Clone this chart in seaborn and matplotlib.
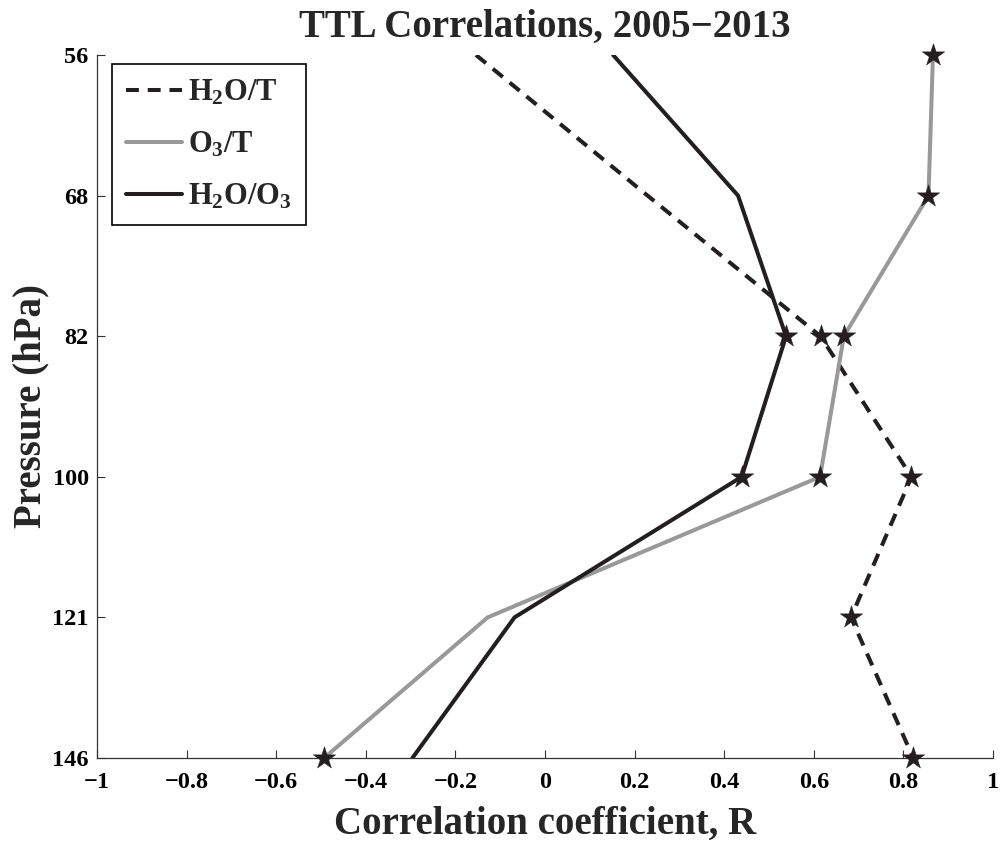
import numpy as np
import pandas as pd
import matplotlib
matplotlib.use("Agg")
import matplotlib.pyplot as plt
from matplotlib.ticker import NullLocator, FixedLocator, FixedFormatter
import seaborn as sns

# Pressure levels (hPa) and their tick labels
pressure = [56.23, 68.13, 82.54, 100.0, 121.15, 146.78]
pressure_labels = ["56", "68", "82", "100", "121", "146"]

# Correlation coefficients at each level
r_h2o_t = [-0.154, 0.229, 0.615, 0.818, 0.683, 0.822]
r_o3_t = [0.866, 0.856, 0.667, 0.614, -0.128, -0.493]
r_h2o_o3 = [0.152, 0.431, 0.538, 0.439, -0.068, -0.296]

# Which levels are marked as significant (star markers)
sig_h2o_t = [False, False, True, True, True, True]
sig_o3_t = [True, True, True, True, False, True]
sig_h2o_o3 = [False, False, True, True, False, False]

series_names = ["H$_2$O/T", "O$_3$/T", "H$_2$O/O$_3$"]
x_ticks = [-1, -0.8, -0.6, -0.4, -0.2, 0, 0.2, 0.4, 0.6, 0.8, 1]

sns.set_theme(style="ticks")
plt.rcParams["font.family"] = ["Liberation Serif", "DejaVu Serif"]
plt.rcParams["font.weight"] = "bold"
plt.rcParams["mathtext.fontset"] = "custom"
plt.rcParams["mathtext.rm"] = "Liberation Serif:bold"
plt.rcParams["mathtext.bf"] = "Liberation Serif:bold"
plt.rcParams["mathtext.it"] = "Liberation Serif:bold"
plt.rcParams["mathtext.default"] = "bf"

frames = []
for name, vals, sig in zip(series_names,
                           [r_h2o_t, r_o3_t, r_h2o_o3],
                           [sig_h2o_t, sig_o3_t, sig_h2o_o3]):
    frames.append(pd.DataFrame({"series": name, "pressure": pressure,
                                "r": vals, "sig": sig}))
df = pd.concat(frames, ignore_index=True)

ink = "#231f20"
styles = {
    series_names[0]: dict(color=ink, linestyle=(0, (3.2, 2.2))),
    series_names[1]: dict(color="#999999", linestyle="-"),
    series_names[2]: dict(color=ink, linestyle="-"),
}

fig = plt.figure(figsize=(10.02, 8.43), dpi=100)
ax = fig.add_axes([97 / 1002, 1 - 758 / 843, 896 / 1002, 703 / 843])
ax.set_yscale("log")

handles = []
for name in series_names:
    sub = df[df["series"] == name]
    sns.lineplot(data=sub, x="r", y="pressure", orient="y", sort=False,
                 ax=ax, linewidth=2.9, label=name, legend=False,
                 **styles[name])
    handles.append(ax.lines[-1])

stars = df[df["sig"]]
sns.scatterplot(data=stars, x="r", y="pressure", marker="*", s=290,
                color=ink, edgecolor=ink, linewidth=0.3, ax=ax,
                legend=False, zorder=5, clip_on=False)

ax.set_xlim(-1, 1)
ax.set_ylim(pressure[-1], pressure[0])
ax.yaxis.set_major_locator(FixedLocator(pressure))
ax.yaxis.set_major_formatter(FixedFormatter(pressure_labels))
ax.yaxis.set_minor_locator(NullLocator())
ax.set_xticks(x_ticks)
ax.set_xticklabels(["\u2212" + f"{abs(v):g}" if v < 0 else f"{v:g}"
                    for v in x_ticks])

for side in ["top", "right"]:
    ax.spines[side].set_visible(False)
for side in ["left", "bottom"]:
    ax.spines[side].set_color("#333333")
    ax.spines[side].set_linewidth(0.9)
ax.tick_params(axis="both", direction="in", length=6, width=0.8,
               labelsize=17.5, colors="#333333", labelcolor="black")
ax.tick_params(axis="x", pad=10)
ax.tick_params(axis="y", pad=6)
for lab in ax.get_xticklabels() + ax.get_yticklabels():
    lab.set_fontweight("bold")

ax.set_xlabel("Correlation coefficient, R", fontsize=28, fontweight="bold",
              labelpad=9)
ax.set_ylabel("Pressure (hPa)", fontsize=28, fontweight="bold", labelpad=2)
ax.set_title("TTL Correlations, 2005\u22122013", fontsize=28,
             fontweight="bold", pad=13)

leg = ax.legend(handles=handles, labels=series_names, loc="upper left",
                bbox_to_anchor=(0.0167, 0.987), borderaxespad=0,
                fontsize=22, handlelength=1.85, handletextpad=0.2,
                labelspacing=0.74, borderpad=0.45, fancybox=False,
                framealpha=1, edgecolor="black")
leg.get_frame().set_linewidth(1.2)

fig.savefig("out.png", dpi=100)
